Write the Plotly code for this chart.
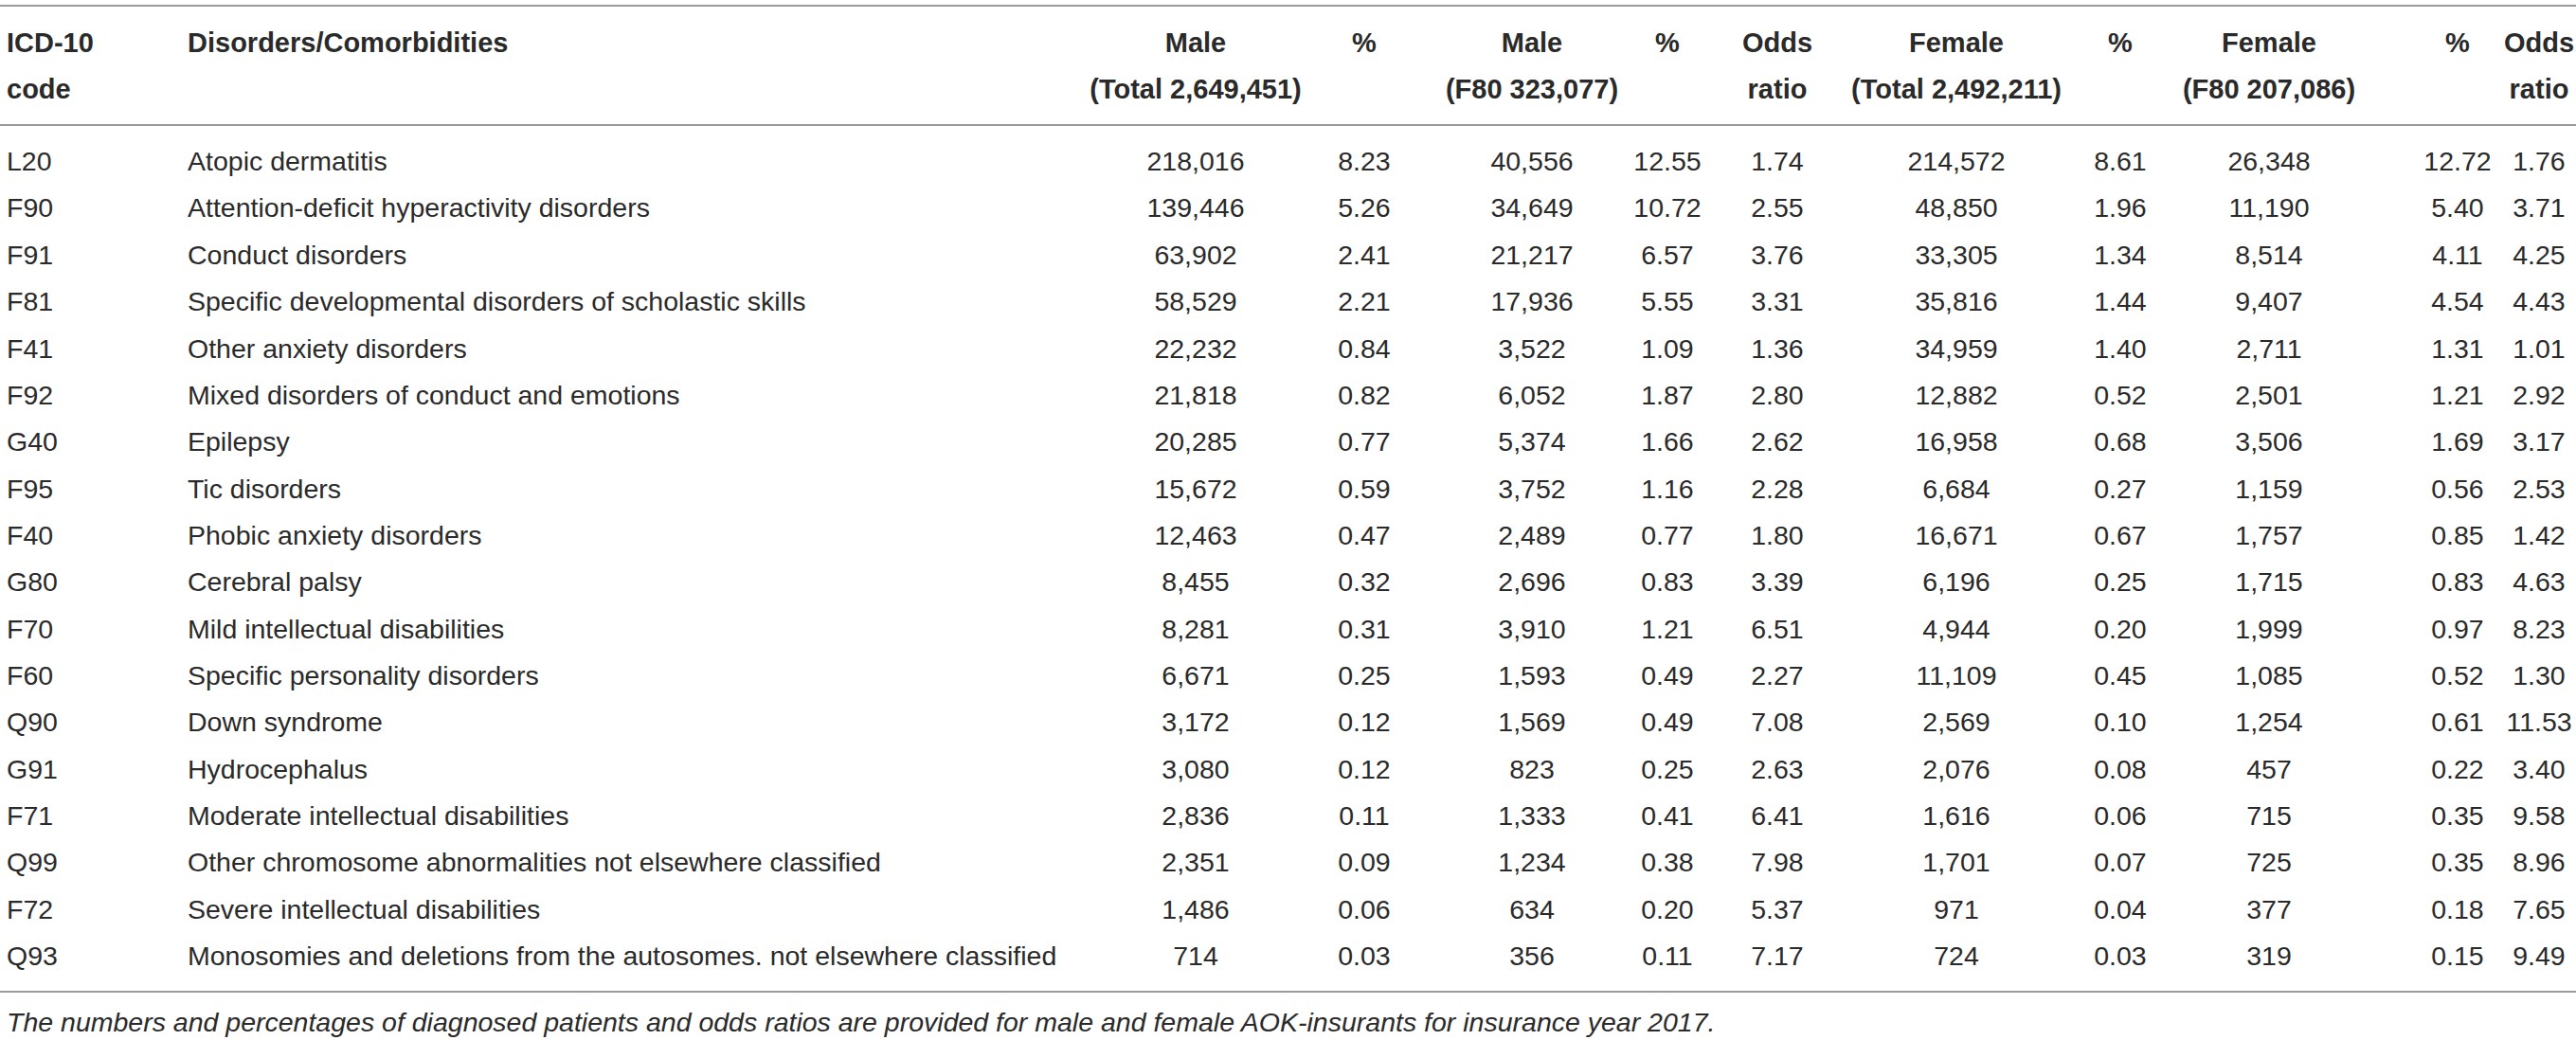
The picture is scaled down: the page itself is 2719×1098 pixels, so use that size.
import plotly.graph_objects as go

# Comorbidities of F80 patients, AOK-insurants 2017
codes = ["L20", "F90", "F91", "F81", "F41", "F92", "G40", "F95", "F40",
         "G80", "F70", "F60", "Q90", "G91", "F71", "Q99", "F72", "Q93"]
disorders = [
    "Atopic dermatitis",
    "Attention-deficit hyperactivity disorders",
    "Conduct disorders",
    "Specific developmental disorders of scholastic skills",
    "Other anxiety disorders",
    "Mixed disorders of conduct and emotions",
    "Epilepsy",
    "Tic disorders",
    "Phobic anxiety disorders",
    "Cerebral palsy",
    "Mild intellectual disabilities",
    "Specific personality disorders",
    "Down syndrome",
    "Hydrocephalus",
    "Moderate intellectual disabilities",
    "Other chromosome abnormalities not elsewhere classified",
    "Severe intellectual disabilities",
    "Monosomies and deletions from the autosomes. not elsewhere classified",
]
male_total = [218016, 139446, 63902, 58529, 22232, 21818, 20285, 15672, 12463,
              8455, 8281, 6671, 3172, 3080, 2836, 2351, 1486, 714]
male_total_pct = [8.23, 5.26, 2.41, 2.21, 0.84, 0.82, 0.77, 0.59, 0.47,
                  0.32, 0.31, 0.25, 0.12, 0.12, 0.11, 0.09, 0.06, 0.03]
male_f80 = [40556, 34649, 21217, 17936, 3522, 6052, 5374, 3752, 2489,
            2696, 3910, 1593, 1569, 823, 1333, 1234, 634, 356]
male_f80_pct = [12.55, 10.72, 6.57, 5.55, 1.09, 1.87, 1.66, 1.16, 0.77,
                0.83, 1.21, 0.49, 0.49, 0.25, 0.41, 0.38, 0.20, 0.11]
male_or = [1.74, 2.55, 3.76, 3.31, 1.36, 2.80, 2.62, 2.28, 1.80,
           3.39, 6.51, 2.27, 7.08, 2.63, 6.41, 7.98, 5.37, 7.17]
female_total = [214572, 48850, 33305, 35816, 34959, 12882, 16958, 6684, 16671,
                6196, 4944, 11109, 2569, 2076, 1616, 1701, 971, 724]
female_total_pct = [8.61, 1.96, 1.34, 1.44, 1.40, 0.52, 0.68, 0.27, 0.67,
                    0.25, 0.20, 0.45, 0.10, 0.08, 0.06, 0.07, 0.04, 0.03]
female_f80 = [26348, 11190, 8514, 9407, 2711, 2501, 3506, 1159, 1757,
              1715, 1999, 1085, 1254, 457, 715, 725, 377, 319]
female_f80_pct = [12.72, 5.40, 4.11, 4.54, 1.31, 1.21, 1.69, 0.56, 0.85,
                  0.83, 0.97, 0.52, 0.61, 0.22, 0.35, 0.35, 0.18, 0.15]
female_or = [1.76, 3.71, 4.25, 4.43, 1.01, 2.92, 3.17, 2.53, 1.42,
             4.63, 8.23, 1.30, 11.53, 3.40, 9.58, 8.96, 7.65, 9.49]

header_top = ["Male", "%", "Male", "%", "Odds",
              "Female", "%", "Female", "%", "Odds"]
header_bottom = ["(Total 2,649,451)", "", "(F80 323,077)", "", "ratio",
                 "(Total 2,492,211)", "", "(F80 207,086)", "", "ratio"]
footnote = ("The numbers and percentages of diagnosed patients and odds ratios "
            "are provided for male and female AOK-insurants for insurance year 2017.")

# layout (pixel coordinates of the page)
W, H = 2719, 1098
FONT = "Liberation Sans, Arial, Helvetica, sans-serif"
SIZE = 28.5
HEAD_SIZE = 29
INK = "#2a2a2a"
RULE = "#9a9a9a"
X_CODE, X_NAME = 7, 198
X_COLS = [1262, 1440, 1617, 1760, 1876, 2065, 2238, 2395, 2594, 2680]
Y_HEAD = [48, 97]
Y_ROW0, ROW_STEP = 173, 49.35
Y_RULES = [6, 132, 1047]
Y_NOTE = 1082

columns = [
    [f"{v:,}" for v in male_total],
    [f"{v:.2f}" for v in male_total_pct],
    [f"{v:,}" for v in male_f80],
    [f"{v:.2f}" for v in male_f80_pct],
    [f"{v:.2f}" for v in male_or],
    [f"{v:,}" for v in female_total],
    [f"{v:.2f}" for v in female_total_pct],
    [f"{v:,}" for v in female_f80],
    [f"{v:.2f}" for v in female_f80_pct],
    [f"{v:.2f}" for v in female_or],
]

rows_y = [Y_ROW0 + i * ROW_STEP for i in range(len(codes))]

fig = go.Figure()

body_font = dict(family=FONT, size=SIZE, color=INK)
head_font = dict(family=FONT, size=HEAD_SIZE, color=INK, weight="bold")


def add_text(x, y, text, pos, font):
    fig.add_trace(go.Scatter(
        x=x, y=y, text=text, mode="text", textposition=pos,
        textfont=font, hoverinfo="skip", showlegend=False,
        cliponaxis=False,
    ))


# header
add_text([X_CODE, X_CODE], Y_HEAD, ["ICD-10", "code"], "middle right", head_font)
add_text([X_NAME], [Y_HEAD[0]], ["Disorders/Comorbidities"], "middle right", head_font)
add_text(X_COLS, [Y_HEAD[0]] * len(X_COLS), header_top, "middle center", head_font)
add_text(X_COLS, [Y_HEAD[1]] * len(X_COLS), header_bottom, "middle center", head_font)

# body
add_text([X_CODE] * len(codes), rows_y, codes, "middle right", body_font)
add_text([X_NAME] * len(disorders), rows_y, disorders, "middle right", body_font)
for xc, col in zip(X_COLS, columns):
    add_text([xc] * len(col), rows_y, col, "middle center", body_font)

# footnote
add_text([X_CODE], [Y_NOTE], [f"<i>{footnote}</i>"], "middle right", body_font)

for y in Y_RULES:
    fig.add_shape(type="line", xref="x", yref="y", x0=0, x1=W, y0=y, y1=y,
                  line=dict(color=RULE, width=2))

fig.update_layout(
    width=W, height=H,
    margin=dict(l=0, r=0, t=0, b=0),
    paper_bgcolor="white", plot_bgcolor="white",
    xaxis=dict(range=[0, W], visible=False, fixedrange=True),
    yaxis=dict(range=[H, 0], visible=False, fixedrange=True),
)

fig.write_html("out.html", config={"displayModeBar": False},
               post_script="document.body.style.margin='0';")
